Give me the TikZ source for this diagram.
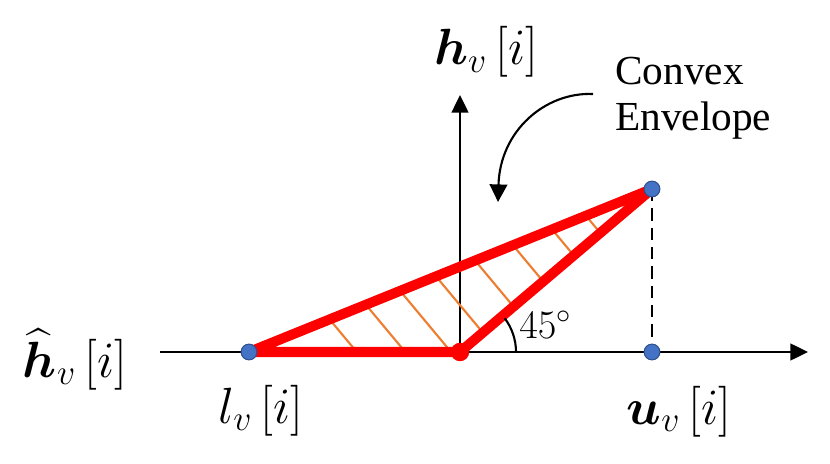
\RequirePackage{fix-cm}
\documentclass[tikz,border=0pt]{standalone}
\usepackage{amsmath,bm}
\usepackage{fontspec}
\newfontfamily\tnr{Liberation Serif}
\usetikzlibrary{arrows.meta,calc}
\definecolor{dotblue}{RGB}{68,114,196}
\definecolor{dotedge}{RGB}{47,82,143}
\definecolor{hatchor}{RGB}{237,125,49}
\begin{document}
\begin{tikzpicture}[x=0.02cm,y=0.02cm,
  axis/.style={line width=1.2pt,-{Triangle[length=10pt,width=9.5pt]}},
  envelope/.style={draw=red,line width=5.7pt,line join=round},
  hatchline/.style={draw=hatchor,line width=1.2pt},
  bluedot/.style={circle,fill=dotblue,draw=dotedge,line width=0.6pt,minimum size=9pt,inner sep=0pt},
  reddot/.style={circle,fill=red,minimum size=10.5pt,inner sep=0pt},
  mathlbl/.style={font=\fontsize{29}{33}\selectfont,inner sep=0pt},
  txtlbl/.style={font=\tnr\fontsize{23.5}{28}\selectfont,inner sep=0pt},
  pointer/.style={line width=1.2pt,-{Triangle[length=10pt,width=10pt]}}]
\useasboundingbox (0,0) rectangle (830,463);
% key points
\coordinate (L) at (249,111);
\coordinate (O) at (460,111);
\coordinate (U) at (652,274);
\coordinate (B) at (652,111);
\coordinate (xs) at (160,111);
\coordinate (xe) at (808,111);
\coordinate (ye) at (460,368);
\coordinate (ps) at (593,369);
\coordinate (pe) at (498,261);
% axes
\draw[axis] (xs) -- (xe);
\draw[axis] (O) -- (ye);
% dashed
\draw[line width=1.2pt,dash pattern=on 7pt off 4pt] (U) -- (B);
% hatching
\begin{scope}
\clip (L) -- (O) -- (U) -- cycle;
\foreach \t in {0.20,0.29,0.375,0.464,0.561,0.655,0.752,0.836}{
  \draw[hatchline] ($(L)!\t!(U)$) ++(-60,72) -- ++(250,-300);
}
\end{scope}
% envelope
\draw[envelope] (L) -- (O) -- (U) -- cycle;
% angle arc
\draw[line width=1.2pt] ($(O)+(56,0)$) arc[start angle=0,end angle=37,radius=56];
\node[font=\fontsize{23}{26}\selectfont,anchor=base west,inner sep=0pt] (ang) at (519,125) {$45^\circ$};
% dots
\node[bluedot] (dL) at (L) {};
\node[bluedot] (dU) at (U) {};
\node[bluedot] (dB) at (B) {};
\node[reddot] (dO) at (O) {};
% pointer arrow
\draw[pointer] (ps) .. controls (545,371) and (500,332) .. (pe);
% labels
\node[mathlbl,anchor=base] (hv) at (486,398) {$\bm{h}_{v}\,[i]$};
\node[mathlbl,anchor=base] (hhat) at (75,86) {$\widehat{\bm{h}}_{v}\,[i]$};
\node[mathlbl,anchor=base] (lv) at (261,40) {$l_{v}\,[i]$};
\node[mathlbl,anchor=base] (uv) at (679,39) {$\bm{u}_{v}\,[i]$};
\node[txtlbl,anchor=base west] (c1) at (615,378) {Convex};
\node[txtlbl,anchor=base west] (c2) at (615,332) {Envelope};
\end{tikzpicture}
\end{document}
